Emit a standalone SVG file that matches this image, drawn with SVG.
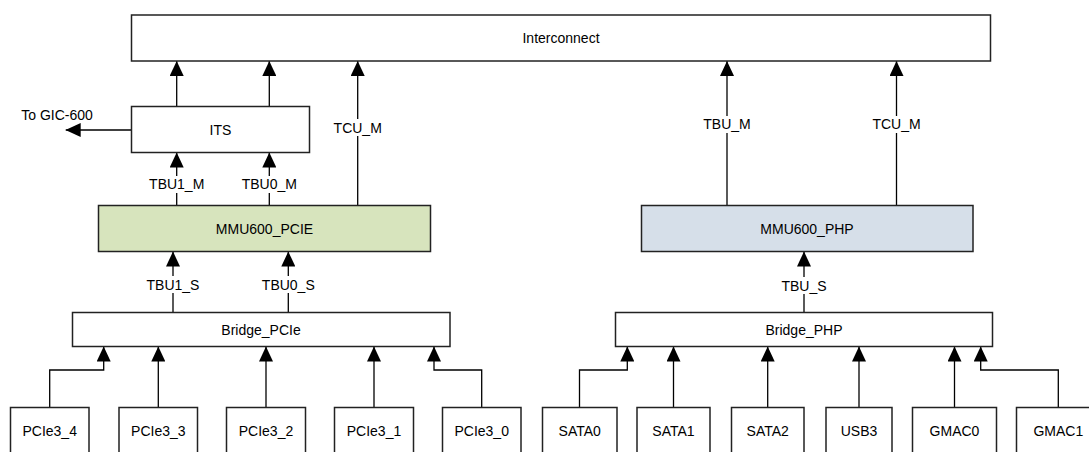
<svg xmlns="http://www.w3.org/2000/svg" width="1089" height="452" viewBox="0 0 1089 452">
<defs>
<marker id="arr" markerUnits="userSpaceOnUse" markerWidth="15" markerHeight="14" viewBox="0 0 15 14" refX="15" refY="7" orient="auto">
<path d="M0,0 L15,7 L0,14 z" fill="#000"/>
</marker>
<style>
.box{fill:#fff;stroke:#222;stroke-width:1.5}
.green{fill:#d7e4bd}
.blue{fill:#d6dfe9}
.t{font-family:"Liberation Sans",Arial,sans-serif;font-size:14px;fill:#000;text-anchor:middle;dominant-baseline:central}
.c{fill:none;stroke:#000;stroke-width:1.3;marker-end:url(#arr)}
.lb{fill:#fff;stroke:none}
</style>
</defs>
<rect width="1089" height="452" fill="#fff"/>

<g id="connectors">
<path class="c" d="M176.7,106.5 V61"/>
<path class="c" d="M269.3,106.5 V61"/>
<path class="c" d="M131.5,130 H65.7"/>
<path class="c" d="M176.7,205.5 V152.5"/>
<path class="c" d="M269.3,205.5 V152.5"/>
<path class="c" d="M357.7,205.5 V61"/>
<path class="c" d="M727,205.5 V61"/>
<path class="c" d="M896.5,205.5 V61"/>
<path class="c" d="M173,312.5 V251.5"/>
<path class="c" d="M288.3,312.5 V251.5"/>
<path class="c" d="M804,312.5 V251.5"/>
<path class="c" d="M49.7,407.5 V370 H103.7 V346.5"/>
<path class="c" d="M158.3,407.5 V346.5"/>
<path class="c" d="M266,407.5 V346.5"/>
<path class="c" d="M374,407.5 V346.5"/>
<path class="c" d="M481.7,407.5 V370 H434 V346.5"/>
<path class="c" d="M579.5,407.5 V370 H627.3 V346.5"/>
<path class="c" d="M673.5,407.5 V346.5"/>
<path class="c" d="M767.7,407.5 V346.5"/>
<path class="c" d="M859,407.5 V346.5"/>
<path class="c" d="M954.5,407.5 V346.5"/>
<path class="c" d="M1058.3,407.5 V370 H980.7 V346.5"/>
<rect class="lb" x="149" y="176" width="56" height="17"/>
<text class="t" x="176.7" y="184">TBU1_M</text>
<rect class="lb" x="241" y="176" width="56" height="17"/>
<text class="t" x="269.3" y="184">TBU0_M</text>
<rect class="lb" x="331" y="119" width="54" height="17"/>
<text class="t" x="357.7" y="127.5">TCU_M</text>
<rect class="lb" x="698" y="116" width="58" height="17"/>
<text class="t" x="727" y="124">TBU_M</text>
<rect class="lb" x="869" y="116" width="55" height="17"/>
<text class="t" x="896.5" y="124">TCU_M</text>
<rect class="lb" x="148" y="276" width="50" height="17"/>
<text class="t" x="173" y="284.5">TBU1_S</text>
<rect class="lb" x="263" y="276" width="51" height="17"/>
<text class="t" x="288.3" y="284.5">TBU0_S</text>
<rect class="lb" x="783" y="277" width="42" height="17"/>
<text class="t" x="804" y="285.5">TBU_S</text>
<text class="t" x="57" y="115">To GIC-600</text>
</g>

<g id="interconnect"><rect class="box" x="131.5" y="15" width="859" height="46"/><text class="t" x="561" y="38">Interconnect</text></g>
<g id="its"><rect class="box" x="131.5" y="106.5" width="178" height="46"/><text class="t" x="220.5" y="130">ITS</text></g>
<g id="mmu600_pcie"><rect class="box green" x="98.5" y="205.5" width="332" height="46"/><text class="t" x="264.5" y="228.5">MMU600_PCIE</text></g>
<g id="mmu600_php"><rect class="box blue" x="641.5" y="205.5" width="331.5" height="46"/><text class="t" x="807" y="228.5">MMU600_PHP</text></g>
<g id="bridge_pcie"><rect class="box" x="72.5" y="312.5" width="377.5" height="34"/><text class="t" x="261" y="329.5">Bridge_PCIe</text></g>
<g id="bridge_php"><rect class="box" x="615.5" y="312.5" width="377" height="34"/><text class="t" x="804" y="329.5">Bridge_PHP</text></g>

<g id="pcie3_4"><rect class="box" x="10.5" y="407.5" width="78.5" height="60"/><text class="t" x="49.7" y="431">PCIe3_4</text></g>
<g id="pcie3_3"><rect class="box" x="119" y="407.5" width="78.5" height="60"/><text class="t" x="158.3" y="431">PCIe3_3</text></g>
<g id="pcie3_2"><rect class="box" x="226.5" y="407.5" width="79" height="60"/><text class="t" x="266" y="431">PCIe3_2</text></g>
<g id="pcie3_1"><rect class="box" x="334.5" y="407.5" width="79" height="60"/><text class="t" x="374" y="431">PCIe3_1</text></g>
<g id="pcie3_0"><rect class="box" x="442.5" y="407.5" width="78.5" height="60"/><text class="t" x="481.7" y="431">PCIe3_0</text></g>
<g id="sata0"><rect class="box" x="542.5" y="407.5" width="74.5" height="60"/><text class="t" x="579.7" y="431">SATA0</text></g>
<g id="sata1"><rect class="box" x="637" y="407.5" width="73" height="60"/><text class="t" x="673.5" y="431">SATA1</text></g>
<g id="sata2"><rect class="box" x="731.5" y="407.5" width="72.5" height="60"/><text class="t" x="767.7" y="431">SATA2</text></g>
<g id="usb3"><rect class="box" x="826" y="407.5" width="66" height="60"/><text class="t" x="859" y="431">USB3</text></g>
<g id="gmac0"><rect class="box" x="912.5" y="407.5" width="84" height="60"/><text class="t" x="954.5" y="431">GMAC0</text></g>
<g id="gmac1"><rect class="box" x="1016.5" y="407.5" width="84" height="60"/><text class="t" x="1058.3" y="431">GMAC1</text></g>
</svg>
